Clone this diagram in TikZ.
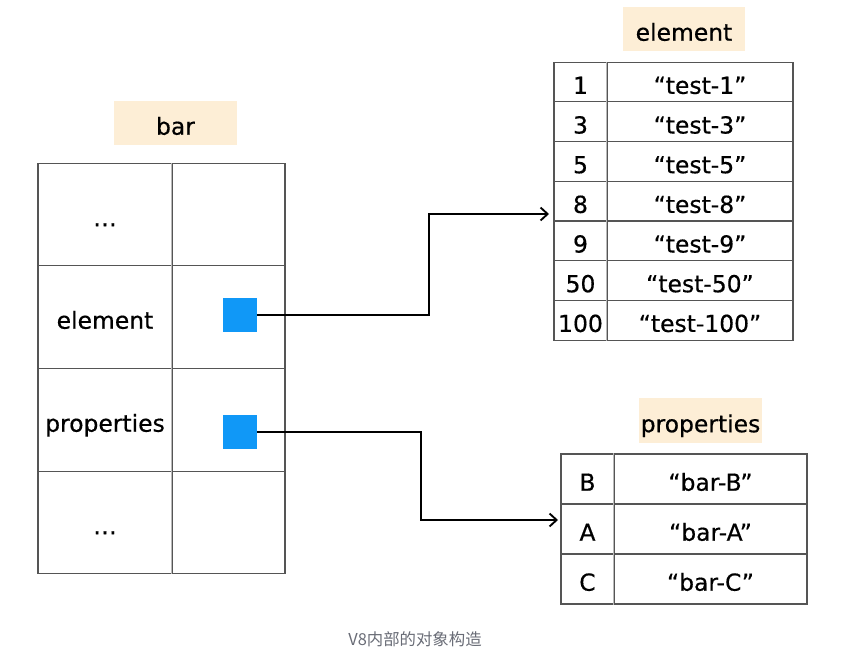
\documentclass[tikz,border=0pt]{standalone}
\usepackage{fontspec}
\setmainfont{DejaVu Sans}[FakeBold=0.5]
\newfontfamily\cjkfont{Noto Sans CJK SC}
\usetikzlibrary{arrows.meta}
\definecolor{labelfill}{RGB}{253,238,214}
\definecolor{ptrblue}{RGB}{16,152,247}
\definecolor{gridgray}{RGB}{85,85,85}
\definecolor{captiongray}{RGB}{105,108,118}

\begin{document}
\begin{tikzpicture}[x=0.03cm, y=-0.03cm,
	every node/.style={font=\fontsize{20}{24}\selectfont, inner sep=0pt, rectangle, text height=22pt, text depth=2pt},
	title/.style={fill=labelfill, minimum width=3.68cm, minimum height=1.32cm},
	cell/.style={draw=gridgray, line width=0.9pt},
	barkey/.style={cell, minimum width=4.02cm, minimum height=3.08cm},
	barval/.style={cell, minimum width=3.39cm, minimum height=3.08cm},
	elkey/.style={cell, minimum width=1.59cm, minimum height=1.19cm},
	elval/.style={cell, minimum width=5.58cm, minimum height=1.19cm},
	prkey/.style={cell, minimum width=1.59cm, minimum height=1.5cm},
	prval/.style={cell, minimum width=5.79cm, minimum height=1.5cm},
	pointer/.style={fill=ptrblue, minimum size=1cm, text height=, text depth=},
	divider/.style={draw=gray!55, line width=0.9pt},
	link/.style={draw=black, line width=1.6pt, -{Straight Barb[length=6pt, width=11pt]}},
	caption/.style={font=\cjkfont\fontsize{14}{16}\selectfont, text=captiongray, text height=, text depth=}]
	\useasboundingbox (0,0) rectangle (867,657);
	
	% Object bar
	\node[title] (bartitle) at (175.5,123) {bar};
	\node[barkey] (b1k) at (105,214.5) {…};
	\node[barval] (b1v) at (228.5,214.5) {};
	\node[barkey] (b2k) at (105,317) {element};
	\node[barval] (b2v) at (228.5,317) {};
	\node[barkey] (b3k) at (105,420) {properties};
	\node[barval] (b3v) at (228.5,420) {};
	\node[barkey] (b4k) at (105,522.5) {…};
	\node[barval] (b4v) at (228.5,522.5) {};
	\draw[divider] (b1v.north west) -- (b4v.south west);
	\node[pointer] (elemptr) at (240,315) {};
	\node[pointer] (propptr) at (240,432) {};
	
	% Elements store
	\node[title] (eltitle) at (684,29) {element};
	\node[elkey] (e1k) at (580.5,82.1) {1};
	\node[elval] (e1v) at (700,82.1) {“test-1”};
	\node[elkey] (e2k) at (580.5,121.8) {3};
	\node[elval] (e2v) at (700,121.8) {“test-3”};
	\node[elkey] (e3k) at (580.5,161.5) {5};
	\node[elval] (e3v) at (700,161.5) {“test-5”};
	\node[elkey] (e4k) at (580.5,201.2) {8};
	\node[elval] (e4v) at (700,201.2) {“test-8”};
	\node[elkey] (e5k) at (580.5,240.8) {9};
	\node[elval] (e5v) at (700,240.8) {“test-9”};
	\node[elkey] (e6k) at (580.5,280.5) {50};
	\node[elval] (e6v) at (700,280.5) {“test-50”};
	\node[elkey] (e7k) at (580.5,320.2) {100};
	\node[elval] (e7v) at (700,320.2) {“test-100”};
	\draw[divider] (e1v.north west) -- (e7v.south west);
	
	% Properties store
	\node[title] (prtitle) at (700.5,420.5) {properties};
	\node[prkey] (p1k) at (587.5,479) {B};
	\node[prval] (p1v) at (710.5,479) {“bar-B”};
	\node[prkey] (p2k) at (587.5,529) {A};
	\node[prval] (p2v) at (710.5,529) {“bar-A”};
	\node[prkey] (p3k) at (587.5,579) {C};
	\node[prval] (p3v) at (710.5,579) {“bar-C”};
	\draw[divider] (p1v.north west) -- (p3v.south west);
	
	% Links
	\coordinate (elemin) at (549,214);
	\coordinate (propin) at (558,520);
	\draw[link] (elemptr.east) -- ++(172,0) |- (elemin);
	\draw[link] (propptr.east) -- ++(164,0) |- (propin);
	
	\node[caption] (cap) at (415,639) {V8内部的对象构造};
\end{tikzpicture}
\end{document}
